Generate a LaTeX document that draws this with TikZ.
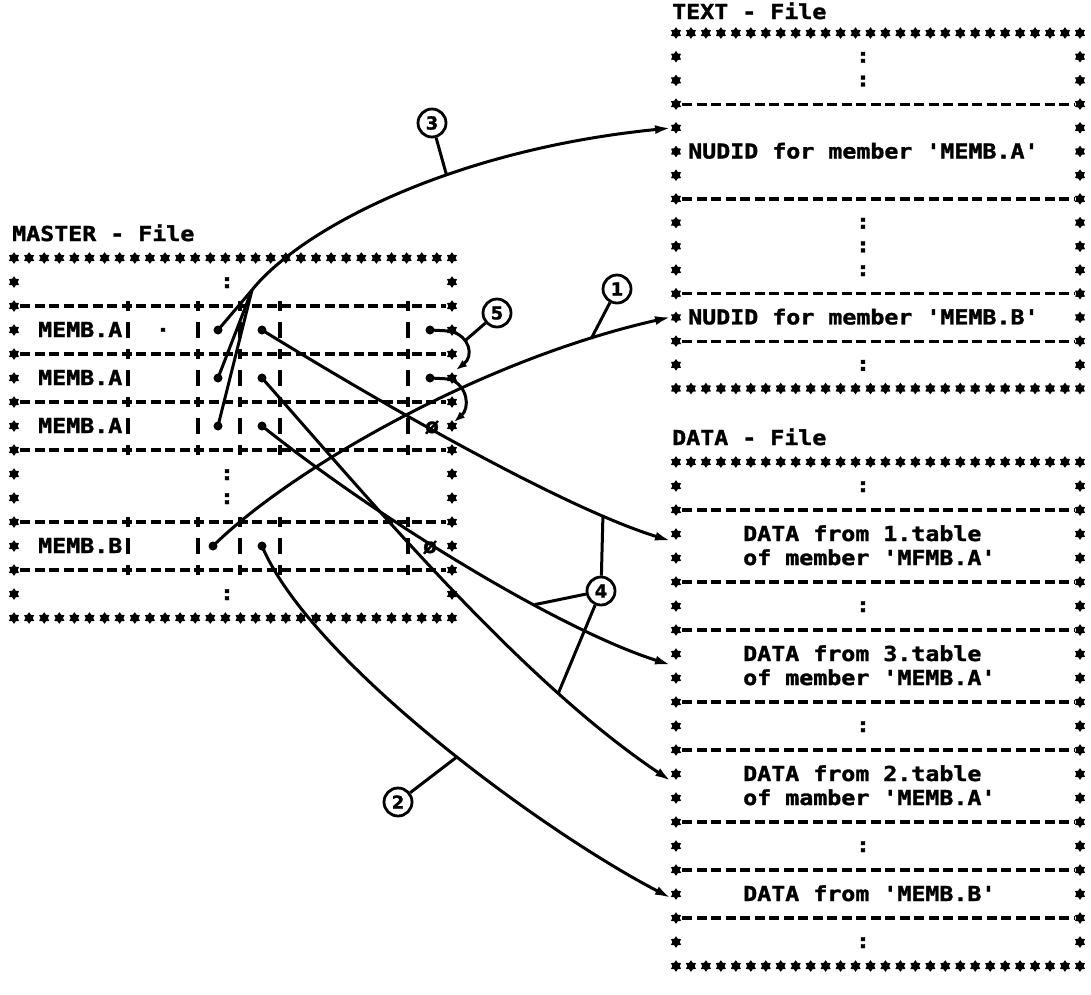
\documentclass[tikz,border=0pt]{standalone}
\usepackage{fontspec}
\usepackage{graphicx}
\newfontfamily\pmono[BoldFeatures={FakeBold=1.4}]{DejaVu Sans Mono}
\newfontfamily\psans[BoldFeatures={FakeBold=1.2}]{DejaVu Sans}
\usetikzlibrary{arrows.meta}
\newcommand\sx[1]{\scalebox{1.13}[1]{#1}}
\begin{document}
\begin{tikzpicture}[x=1pt,y=-1pt,
  txt/.style={font=\pmono\bfseries\fontsize{20.6pt}{24pt}\selectfont, inner sep=0pt, anchor=base west},
  ctxt/.style={font=\pmono\bfseries\fontsize{20.6pt}{24pt}\selectfont, inner sep=0pt, anchor=base},
  dotn/.style={circle, fill=black, minimum size=9pt, inner sep=0pt},
  lbl/.style={circle, draw=black, fill=white, line width=2.8pt, minimum size=28pt, inner sep=0pt, font=\psans\bfseries\fontsize{18pt}{18pt}\selectfont},
  wire/.style={line width=3pt},
  conn/.style={line width=3pt, -{Latex[length=16pt,width=9pt]}},
  conn5/.style={line width=3pt, -{Latex[length=11pt,width=8pt]}},
  dashrow/.style={line width=3.2pt, dash pattern=on 10pt off 4.5pt},
  vbar/.style={line width=3.2pt},
  pics/ast/.style={code={\fill (90:5.8) -- (120:3.7) -- (150:5.8) -- (180:3.7) -- (210:5.8) -- (240:3.7) -- (270:5.8) -- (300:3.7) -- (330:5.8) -- (0:3.7) -- (30:5.8) -- (60:3.7) -- cycle;}}
]
\useasboundingbox (0,0) rectangle (1091,994);

% ---------- titles
\node[txt] (tMaster) at (12,241) {\sx{MASTER - File}};
\node[txt] (tText) at (672,19) {\sx{TEXT - File}};
\node[txt] (tData) at (672,445) {\sx{DATA - File}};

% ---------- MASTER box
\foreach \i in {0,...,29} {\pic at ({14+15.1*\i},258) {ast}; \pic at ({14+15.1*\i},618) {ast};}
\foreach \r in {1,...,14} {\pic at (14,{258+24*\r}) {ast}; \pic at (452,{258+24*\r}) {ast};}
\foreach \y in {306,354,402,450,522,570} {
  \draw[dashrow] (20,\y) -- (446,\y);
  \foreach \x in {128,198,240,280,408} {\draw[vbar] (\x,{\y-5}) -- (\x,{\y+5});}
}
\foreach \y in {330,378,426,546} {
  \foreach \x in {128,198,240,280,408} {\draw[vbar] (\x,{\y-8}) -- (\x,{\y+8});}
}
\foreach \y/\n in {282/1,474/9,498/10,594/14} {\node[ctxt] (mcol\n) at (227,{\y+6}) {\sx{:}};}
\node[txt] (mA1) at (38,337) {\sx{MEMB.A}};
\node[txt] (mA2) at (38,385) {\sx{MEMB.A}};
\node[txt] (mA3) at (38,433) {\sx{MEMB.A}};
\node[txt] (mB) at (38,553) {\sx{MEMB.B}};
\node[ctxt] (mdot) at (163,337) {\sx{·}};
\node[ctxt] (phi7) at (432,433) {\sx{ø}};
\node[ctxt] (phiB) at (430,553) {\sx{ø}};

% ---------- TEXT box
\foreach \i in {0,...,27} {\pic at ({676+14.96*\i},33) {ast}; \pic at ({676+14.96*\i},{33+15*23.7}) {ast};}
\foreach \r in {1,...,14} {\pic at (676,{33+23.7*\r}) {ast}; \pic at (1080,{33+23.7*\r}) {ast};}
\foreach \r in {3,7,11,13} {\draw[dashrow] (682,{33+23.7*\r}) -- (1074,{33+23.7*\r});}
\foreach \r in {1,2,8,9,10,14} {\node[ctxt] (tcol\r) at (863,{33+23.7*\r+6}) {\sx{:}};}
\node[txt] (nudA) at (688,158.5) {\sx{NUDID for member 'MEMB.A'}};
\node[txt] (nudB) at (688,324.4) {\sx{NUDID for member 'MEMB.B'}};

% ---------- DATA box
\foreach \i in {0,...,27} {\pic at ({676+14.96*\i},462) {ast}; \pic at ({676+14.96*\i},966) {ast};}
\foreach \r in {1,...,20} {\pic at (676,{462+24*\r}) {ast}; \pic at (1080,{462+24*\r}) {ast};}
\foreach \r in {2,5,7,10,12,15,17,19} {\draw[dashrow] (682,{462+24*\r}) -- (1074,{462+24*\r});}
\foreach \r in {1,6,11,16,20} {\node[ctxt] (dcol\r) at (863,{462+24*\r+6}) {\sx{:}};}
\node[txt] (d1a) at (743,541) {\sx{DATA from 1.table}};
\node[txt] (d1b) at (743,565) {\sx{of member 'MFMB.A'}};
\node[txt] (d3a) at (743,661) {\sx{DATA from 3.table}};
\node[txt] (d3b) at (743,685) {\sx{of member 'MEMB.A'}};
\node[txt] (d2a) at (743,781) {\sx{DATA from 2.table}};
\node[txt] (d2b) at (743,805) {\sx{of mamber 'MEMB.A'}};
\node[txt] (dBa) at (743,901) {\sx{DATA from 'MEMB.B'}};

% ---------- pointer dots
\node[dotn] (m3a) at (218,330) {};
\node[dotn] (m5a) at (218,378) {};
\node[dotn] (m7a) at (218,426) {};
\node[dotn] (mBa) at (213,546) {};
\node[dotn] (m3b) at (262,330) {};
\node[dotn] (m5b) at (262,378) {};
\node[dotn] (m7b) at (262,426) {};
\node[dotn] (mBb) at (262,546) {};
\node[dotn] (m3c) at (430,330) {};
\node[dotn] (m5c) at (430,378) {};

% ---------- connector end points
\coordinate (C3) at (252,290);
\coordinate (tA) at (671,128);
\coordinate (tB) at (671,317);
\coordinate (tD1) at (671,541);
\coordinate (tD3) at (671,665);
\coordinate (tD2) at (671,781);
\coordinate (tDB) at (671,898);
\coordinate (k5a) at (450,331);
\coordinate (t5a) at (456,370);
\coordinate (k5b) at (450,379);
\coordinate (t5b) at (454,422);

% ---------- connectors
\draw[wire] (m3a.center) -- (C3);
\draw[wire] (m5a.center) -- (C3);
\draw[wire] (m7a.center) -- (C3);
\draw[conn] (C3) .. controls (300,230) and (450,150) .. (tA) coordinate[pos=0.61] (L3);
\draw[conn] (mBa.center) .. controls (290,470) and (480,360) .. (tB) coordinate[pos=0.86] (L1);
\draw[conn] (mBb.center) .. controls (310,660) and (540,830) .. (tDB) coordinate[pos=0.545] (L2);
\draw[conn] (m3b.center) .. controls (400,415) and (570,510) .. (tD1) coordinate[pos=0.8] (L4a);
\draw[conn] (m7b.center) .. controls (380,520) and (560,630) .. (tD3) coordinate[pos=0.65] (L4b);
\draw[conn] (m5b.center) .. controls (370,500) and (520,680) .. (tD2) coordinate[pos=0.75] (L4c);
\draw[conn5] (m3c.center) -- (k5a) .. controls (470,336) and (474,356) .. (t5a) coordinate[pos=0.35] (L5);
\draw[conn5] (m5c.center) -- (k5b) .. controls (468,386) and (470,408) .. (t5b);

% ---------- numbered labels
\node[lbl] (c1) at (617,289) {1};
\node[lbl] (c2) at (398,802) {2};
\node[lbl] (c3) at (432,123) {3};
\node[lbl] (c4) at (601,591) {4};
\node[lbl] (c5) at (497,313) {5};
\draw[wire] (c1) -- (L1);
\draw[wire] (c2) -- (L2);
\draw[wire] (c3) -- (L3);
\draw[wire] (c4) -- (L4a);
\draw[wire] (c4) -- (L4b);
\draw[wire] (c4) -- (L4c);
\draw[wire] (c5) -- (L5);
\end{tikzpicture}
\end{document}
